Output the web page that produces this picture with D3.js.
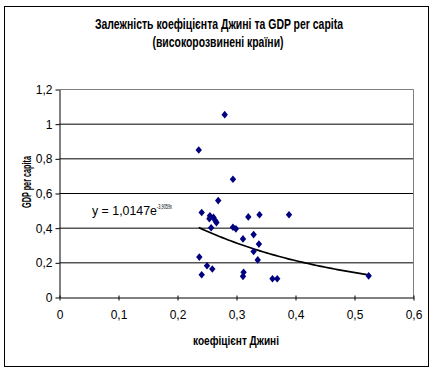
<!DOCTYPE html>
<html>
<head>
<meta charset="utf-8">
<script src="https://cdn.jsdelivr.net/npm/d3@7"></script>
<style>
  body { margin: 0; background: #fff; }
  text { font-family: "Liberation Sans", Arial, sans-serif; fill: #000; }
</style>
</head>
<body>
<div id="chart"></div>
<script>
// Gini coefficient vs GDP per capita (developed countries)
const gini = [0.280, 0.236, 0.294, 0.269, 0.241, 0.255, 0.261, 0.254, 0.264, 0.266,
  0.257, 0.320, 0.339, 0.389, 0.294, 0.299, 0.311, 0.329, 0.338, 0.329,
  0.336, 0.237, 0.250, 0.259, 0.241, 0.312, 0.311, 0.361, 0.369, 0.524];
const gdp = [1.055, 0.851, 0.682, 0.559, 0.490, 0.471, 0.462, 0.454, 0.444, 0.432,
  0.402, 0.465, 0.477, 0.477, 0.405, 0.396, 0.338, 0.363, 0.308, 0.265,
  0.217, 0.233, 0.183, 0.164, 0.131, 0.146, 0.122, 0.108, 0.108, 0.125];
const xTicks = [0, 0.1, 0.2, 0.3, 0.4, 0.5, 0.6];
const yTicks = [0, 0.2, 0.4, 0.6, 0.8, 1, 1.2];
const trend = [1.0147, -3.9059]; // y = a * e^(b x)

const W = 434, H = 373;
const m = { left: 59.5, right: 413.5, top: 89.5, bottom: 297.5 };
const fmt = d => String(d).replace('.', ',');

const svg = d3.select('#chart').append('svg')
  .attr('width', W).attr('height', H);

svg.append('rect').attr('x', 4.5).attr('y', 6.5).attr('width', 424).attr('height', 360)
  .attr('fill', '#fff').attr('stroke', '#000');

const x = d3.scaleLinear().domain([0, 0.6]).range([m.left, m.right]);
const y = d3.scaleLinear().domain([0, 1.2]).range([m.bottom, m.top]);

// gridlines
svg.append('g').selectAll('line')
  .data(yTicks.filter(d => d > 0 && d < 1.2))
  .enter().append('line')
  .attr('x1', m.left).attr('x2', m.right)
  .attr('y1', d => y(d)).attr('y2', d => y(d))
  .attr('stroke', '#000');

// plot border (top/right)
svg.append('path')
  .attr('d', `M${m.left},${m.top}H${m.right}V${m.bottom}`)
  .attr('fill', 'none').attr('stroke', '#808080');

// axes
const yAxis = svg.append('g').attr('transform', `translate(${m.left},0)`)
  .call(d3.axisLeft(y).tickValues(yTicks).tickFormat(fmt).tickSizeInner(4).tickSizeOuter(0).tickPadding(3));
const xAxis = svg.append('g').attr('transform', `translate(0,${m.bottom})`)
  .call(d3.axisBottom(x).tickValues(xTicks).tickFormat(fmt).tickSizeInner(3).tickSizeOuter(0).tickPadding(10));
xAxis.selectAll('.tick line').attr('y1', -2);
[xAxis, yAxis].forEach(a => {
  a.select('.domain').attr('stroke', '#000');
  a.selectAll('.tick line').attr('stroke', '#000');
  a.selectAll('text').attr('font-size', 12).attr('font-family', '"Liberation Sans", Arial, sans-serif').attr('fill', '#000');
});

// trendline
const tx = d3.range(d3.min(gini), d3.max(gini) + 0.001, 0.005);
svg.append('path')
  .datum(tx)
  .attr('d', d3.line().x(d => x(d)).y(d => y(trend[0] * Math.exp(trend[1] * d))))
  .attr('fill', 'none').attr('stroke', '#000').attr('stroke-width', 1.7);

// markers
const diamond = 'M0,-3.8L3.2,0L0,3.8L-3.2,0Z';
svg.append('g').selectAll('path')
  .data(gini.map((g, i) => [g, gdp[i]]))
  .enter().append('path')
  .attr('d', diamond)
  .attr('transform', d => `translate(${x(d[0])},${y(d[1])})`)
  .attr('fill', '#000080');

// equation
const eq = svg.append('text').attr('x', 92).attr('y', 215).attr('font-size', 12);
eq.append('tspan').text('y = 1,0147e').attr('textLength', 65).attr('lengthAdjust', 'spacingAndGlyphs');
eq.append('tspan').text('-3,9059x').attr('font-size', 8).attr('dy', -6)
  .attr('textLength', 15).attr('lengthAdjust', 'spacingAndGlyphs');

// titles
svg.append('text').attr('x', 219).attr('y', 29).attr('text-anchor', 'middle')
  .attr('font-size', 14).attr('font-weight', 'bold')
  .attr('textLength', 248).attr('lengthAdjust', 'spacingAndGlyphs')
  .text('Залежність коефіцієнта Джині та GDP per capita');
svg.append('text').attr('x', 218).attr('y', 47).attr('text-anchor', 'middle')
  .attr('font-size', 14).attr('font-weight', 'bold')
  .attr('textLength', 131).attr('lengthAdjust', 'spacingAndGlyphs')
  .text('(високорозвинені країни)');
svg.append('text').attr('x', 236).attr('y', 345).attr('text-anchor', 'middle')
  .attr('font-size', 13).attr('font-weight', 'bold')
  .attr('textLength', 86).attr('lengthAdjust', 'spacingAndGlyphs')
  .text('коефіцієнт Джині');
svg.append('text').attr('transform', 'translate(30.5,182) rotate(-90)').attr('text-anchor', 'middle')
  .attr('font-size', 13).attr('font-weight', 'bold')
  .attr('textLength', 52).attr('lengthAdjust', 'spacingAndGlyphs')
  .text('GDP per capita');
</script>
</body>
</html>
